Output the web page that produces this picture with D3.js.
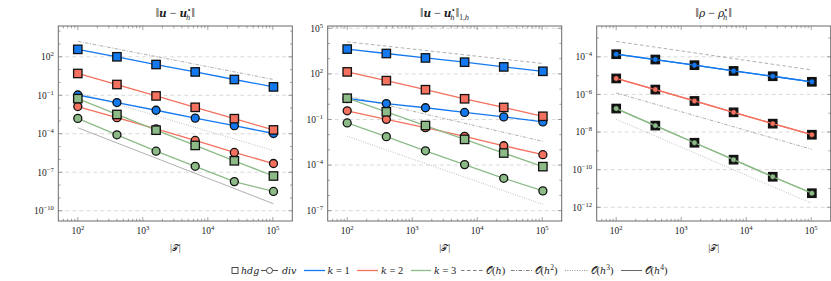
<!DOCTYPE html>
<html><head><meta charset="utf-8">
<script src="https://cdn.jsdelivr.net/npm/d3@7"></script>
<style>
body{margin:0;background:#fff}
</style>
</head><body>
<svg id="c" width="831" height="281"></svg>
<script>
// ---------------- data ----------------
const xValues = [100, 400, 1600, 6400, 25600, 102400];
const xTicks = [1e2, 1e3, 1e4, 1e5];

// panel 1: ||u - u_h||
const p1YTicks = [1e-10, 1e-7, 1e-4, 1e-1, 1e2];
const p1HdgK1 = [380, 100, 25, 6.6, 1.7, 0.45];
const p1HdgK2 = [5.0, 0.69, 0.089, 0.0115, 1.5e-3, 2.0e-4];
const p1HdgK3 = [0.055, 3.2e-3, 1.9e-4, 1.23e-5, 7.8e-7, 5.1e-8];
const p1DivK1 = [0.105, 0.027, 6.8e-3, 1.66e-3, 4.3e-4, 1.05e-4];
const p1DivK2 = [0.0132, 1.78e-3, 2.4e-4, 3.0e-5, 3.5e-6, 4.8e-7];
const p1DivK3 = [1.58e-3, 8.3e-5, 4.4e-6, 2.9e-7, 1.86e-8, 3.2e-9];
const p1RefH2 = [1620, 1.7];
const p1RefH3 = [0.16, 4.9e-6];
const p1RefH4 = [2.95e-4, 3.5e-10];

// panel 2: ||u - u_h||_{1,h}
const p2YTicks = [1e-7, 1e-4, 1e-1, 1e2, 1e5];
const p2HdgK1 = [4270, 2190, 1120, 589, 288, 148];
const p2HdgK2 = [135, 36, 9.1, 2.3, 0.62, 0.162];
const p2HdgK3 = [2.5, 0.32, 0.040, 4.9e-3, 6.2e-4, 7.9e-5];
const p2DivK1 = [2.4, 1.12, 0.59, 0.29, 0.148, 0.069];
const p2DivK2 = [0.37, 0.102, 0.029, 7.8e-3, 1.86e-3, 4.8e-4];
const p2DivK3 = [0.059, 7.4e-3, 8.7e-4, 1.07e-4, 1.35e-5, 2.0e-6];
const p2RefH1 = [1.29e4, 480];
const p2RefH2 = [3.5, 3.6e-3];
const p2RefH3 = [7.8e-3, 2.6e-7];

// panel 3: ||rho - rho_h||
const p3YTicks = [1e-12, 1e-10, 1e-8, 1e-6, 1e-4];
const p3HdgK1 = [1.38e-4, 7.2e-5, 3.6e-5, 1.78e-5, 9.3e-6, 4.7e-6];
const p3HdgK2 = [7.1e-6, 1.82e-6, 4.5e-7, 1.12e-7, 2.8e-8, 7.2e-9];
const p3HdgK3 = [1.78e-7, 2.2e-8, 2.7e-9, 3.4e-10, 4.2e-11, 5.6e-12];
const p3DivK1 = [1.38e-4, 7.2e-5, 3.6e-5, 1.78e-5, 9.3e-6, 4.7e-6];
const p3DivK2 = [7.1e-6, 1.82e-6, 4.5e-7, 1.12e-7, 2.8e-8, 7.2e-9];
const p3DivK3 = [1.78e-7, 2.2e-8, 2.7e-9, 3.4e-10, 4.2e-11, 5.6e-12];
const p3RefH1 = [6.6e-4, 2.0e-5];
const p3RefH2 = [1.2e-6, 1.2e-9];
const p3RefH3 = [4.8e-8, 1.6e-12];

const legendLabels = ["hdg", "div", "k = 1", "k = 2", "k = 3", "O(h)", "O(h2)", "O(h3)", "O(h4)"];

// ---------------- styles ----------------
const FONT = "Liberation Serif";
const ITAL = "DejaVu Serif";
const colors = {1: "#1479ee", 2: "#f4705f", 3: "#8cbb88"};
const refDash = {1: "3.5,2.5", 2: "3.5,1.5,1,1.5", 3: "0.8,1.6", 4: null};
const refColor = "#7a7a7a";

const panels = [
  {yDomain: [Math.pow(10, -10.8), Math.pow(10, 4.4)], yTicks: p1YTicks,
   hdg: [p1HdgK1, p1HdgK2, p1HdgK3], div: [p1DivK1, p1DivK2, p1DivK3],
   refs: [[2, p1RefH2], [3, p1RefH3], [4, p1RefH4]], blackSquares: false},
  {yDomain: [Math.pow(10, -7.68), Math.pow(10, 5.15)], yTicks: p2YTicks,
   hdg: [p2HdgK1, p2HdgK2, p2HdgK3], div: [p2DivK1, p2DivK2, p2DivK3],
   refs: [[1, p2RefH1], [2, p2RefH2], [3, p2RefH3]], blackSquares: false},
  {yDomain: [Math.pow(10, -12.73), Math.pow(10, -2.36)], yTicks: p3YTicks,
   hdg: [p3HdgK1, p3HdgK2, p3HdgK3], div: [p3DivK1, p3DivK2, p3DivK3],
   refs: [[1, p3RefH1], [2, p3RefH2], [3, p3RefH3]], blackSquares: true}
];

const svg = d3.select("#c");
const panelX = [58.3, 327.7, 596.7], panelW = 234, pTop = 26, pBot = 221;
const xDomain = [Math.pow(10, 1.70), Math.pow(10, 5.30)];
const frameColor = "#6a6a6a";

function mkText(parent) {
  return parent.append("text").attr("font-family", FONT).attr("fill", "#222");
}
function itSpan(t, s, fs) {
  return t.append("tspan").text(s).attr("font-family", ITAL).attr("font-style", "italic").attr("font-size", fs);
}

function powLabel(sel, v, fs) {
  const e = Math.round(Math.log10(v));
  sel.append("tspan").text("10").attr("font-size", fs);
  sel.append("tspan").text(e < 0 ? "\u2212" + (-e) : String(e))
    .attr("font-size", fs * 0.7).attr("dy", -fs * 0.42);
}

function titleText(g, idx, cx) {
  const t = mkText(g).attr("x", cx).attr("y", 17).attr("text-anchor", "middle").attr("font-size", 12);
  const norm = s => t.append("tspan").text(s);
  const sym = s => idx < 2 ? itSpan(t, s, 10.5).attr("font-weight", "bold") : itSpan(t, s, 10.5);
  const s = idx < 2 ? "u" : "\u03c1";
  norm("\u2016");
  sym(s); norm(" \u2212 "); sym(s);
  t.append("tspan").text("\u2022").attr("font-size", 7.5).attr("dy", -4.5).attr("dx", 0.5);
  itSpan(t, "h", 7).attr("dy", 7.5).attr("dx", -4.3);
  t.append("tspan").text("\u2016").attr("dy", -3).attr("dx", 1);
  if (idx === 1) {
    t.append("tspan").text("1,").attr("font-size", 7.5).attr("dy", 3);
    itSpan(t, "h", 7);
  }
}

panels.forEach((p, i) => {
  const x0 = panelX[i];
  const g = svg.append("g");
  const x = d3.scaleLog().domain(xDomain).range([x0, x0 + panelW]);
  const y = d3.scaleLog().domain(p.yDomain).range([pBot, pTop]);

  // grid
  g.selectAll(".grid").data(p.yTicks).join("line")
    .attr("x1", x0).attr("x2", x0 + panelW)
    .attr("y1", d => y(d)).attr("y2", d => y(d))
    .attr("stroke", "#cfcfcf").attr("stroke-width", 0.8).attr("stroke-dasharray", "4,3");

  // x ticks (major + minor), top & bottom, inward
  const minorX = [];
  for (let e = 1; e <= 5; e++) for (let m = 2; m <= 9; m++) {
    const v = m * Math.pow(10, e);
    if (v > xDomain[0] && v < xDomain[1]) minorX.push(v);
  }
  const tickG = g.append("g").attr("stroke", frameColor).attr("stroke-width", 0.6);
  [[xTicks, 4], [minorX, 2.3]].forEach(([arr, len]) => {
    arr.forEach(v => {
      tickG.append("line").attr("x1", x(v)).attr("x2", x(v)).attr("y1", pBot).attr("y2", pBot - len);
      tickG.append("line").attr("x1", x(v)).attr("x2", x(v)).attr("y1", pTop).attr("y2", pTop + len);
    });
  });
  // y ticks
  const lo = Math.ceil(Math.log10(p.yDomain[0])), hi = Math.floor(Math.log10(p.yDomain[1]));
  const minorY = [];
  for (let e = lo; e <= hi; e++) {
    const v = Math.pow(10, e);
    if (!p.yTicks.some(t => Math.abs(Math.log10(t) - e) < 1e-6)) minorY.push(v);
  }
  [[p.yTicks, 4], [minorY, 2.3]].forEach(([arr, len]) => {
    arr.forEach(v => {
      tickG.append("line").attr("y1", y(v)).attr("y2", y(v)).attr("x1", x0).attr("x2", x0 + len);
      tickG.append("line").attr("y1", y(v)).attr("y2", y(v)).attr("x1", x0 + panelW).attr("x2", x0 + panelW - len);
    });
  });

  // tick labels
  xTicks.forEach(v => {
    const t = mkText(g).attr("x", x(v)).attr("y", 233.5).attr("text-anchor", "middle");
    powLabel(t, v, 9.5);
  });
  p.yTicks.forEach(v => {
    const t = mkText(g).attr("x", x0 - 4.5).attr("y", y(v) + 3.3).attr("text-anchor", "end");
    powLabel(t, v, 9.5);
  });

  // axis label
  const xl = mkText(g).attr("x", x0 + panelW / 2).attr("y", 250.5).attr("text-anchor", "middle").attr("font-size", 9.5);
  xl.append("tspan").text("|");
  xl.append("tspan").text("\ud835\udcaf").attr("font-size", 9);
  xl.append("tspan").text("|");

  // title
  titleText(g, i, x0 + panelW / 2);

  // reference lines
  p.refs.forEach(([ord, vals]) => {
    g.append("line")
      .attr("x1", x(xValues[0])).attr("y1", y(vals[0]))
      .attr("x2", x(xValues[xValues.length - 1])).attr("y2", y(vals[1]))
      .attr("stroke", refColor).attr("stroke-width", 0.6)
      .attr("stroke-dasharray", refDash[ord]);
  });

  // series
  const line = d3.line().x((d, j) => x(xValues[j])).y(d => y(d));
  for (let k = 0; k < 3; k++) {
    const col = colors[k + 1];
    g.append("path").attr("d", line(p.hdg[k])).attr("fill", "none").attr("stroke", col).attr("stroke-width", 1.3);
    g.selectAll(null).data(p.hdg[k]).join("rect")
      .attr("x", (d, j) => x(xValues[j]) - 4.2).attr("y", d => y(d) - 4.2)
      .attr("width", 8.4).attr("height", 8.4)
      .attr("fill", p.blackSquares ? "#111" : col).attr("stroke", "#111").attr("stroke-width", 1.3);
    g.append("path").attr("d", line(p.div[k])).attr("fill", "none").attr("stroke", col).attr("stroke-width", 1.3);
    g.selectAll(null).data(p.div[k]).join("circle")
      .attr("cx", (d, j) => x(xValues[j])).attr("cy", d => y(d))
      .attr("r", p.blackSquares ? 2.7 : 4)
      .attr("fill", col).attr("stroke", "#111").attr("stroke-width", p.blackSquares ? 0.5 : 1.3);
  }

  // frame
  g.append("rect").attr("x", x0).attr("y", pTop).attr("width", panelW).attr("height", pBot - pTop)
    .attr("fill", "none").attr("stroke", frameColor).attr("stroke-width", 1);
});

// ---------------- legend ----------------
const lg = svg.append("g");
const ly = 270.5;
// layout: [sample start, sample end, text start] per entry
const legLayout = [[232, 238, 241], [261, 278, 282], [304, 325, 327.5], [357, 378, 381],
                   [411, 431, 434], [461, 483, 486], [511, 532, 534.5], [565, 588, 590.5], [621, 642, 644.5]];
function legText(xpos, parts) {
  const t = mkText(lg).attr("x", xpos).attr("y", ly + 3.5).attr("font-size", 10.5);
  parts.forEach(([s, opt]) => {
    let ts;
    if (opt && opt.it) ts = itSpan(t, s, 9.5);
    else ts = t.append("tspan").text(s);
    if (opt && opt.sup) ts.attr("font-size", 7.5).attr("dy", -4);
    if (opt && opt.down) ts.attr("dy", 4);
    if (opt && opt.cal) ts.attr("font-size", 10);
  });
}
lg.append("rect").attr("x", legLayout[0][0]).attr("y", ly - 3).attr("width", 6).attr("height", 6)
  .attr("fill", "none").attr("stroke", "#222").attr("stroke-width", 0.8);
legText(legLayout[0][2], [[legendLabels[0], {it: true}]]);
lg.append("line").attr("x1", legLayout[1][0]).attr("x2", legLayout[1][1]).attr("y1", ly).attr("y2", ly).attr("stroke", "#222").attr("stroke-width", 0.8);
lg.append("circle").attr("cx", (legLayout[1][0] + legLayout[1][1]) / 2).attr("cy", ly).attr("r", 3).attr("fill", "#fff").attr("stroke", "#222").attr("stroke-width", 0.8);
legText(legLayout[1][2], [[legendLabels[1], {it: true}]]);
[1, 2, 3].forEach(k => {
  const L = legLayout[k + 1];
  lg.append("line").attr("x1", L[0]).attr("x2", L[1]).attr("y1", ly).attr("y2", ly).attr("stroke", colors[k]).attr("stroke-width", 1.3);
  legText(L[2], [["k", {it: true}], [" = " + k, {}]]);
});
[1, 2, 3, 4].forEach(ord => {
  const L = legLayout[ord + 4];
  lg.append("line").attr("x1", L[0]).attr("x2", L[1]).attr("y1", ly).attr("y2", ly)
    .attr("stroke", ord === 4 ? "#222" : "#444").attr("stroke-width", 0.7).attr("stroke-dasharray", refDash[ord]);
  const parts = [["\ud835\udcaa", {cal: true}], ["(", {}], ["h", {it: true}]];
  if (ord > 1) { parts.push([String(ord), {sup: true}]); parts.push([")", {down: true}]); }
  else parts.push([")", {}]);
  legText(L[2], parts);
});
</script>
</body></html>
